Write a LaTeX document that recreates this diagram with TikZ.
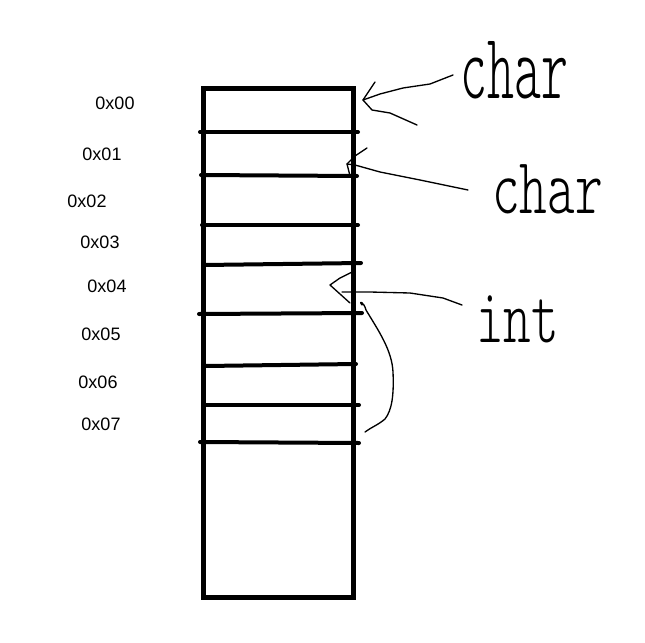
\documentclass[tikz,border=0pt]{standalone}
\usepackage{fontspec}
\setmainfont{Liberation Sans}
\begin{document}
\begin{tikzpicture}[x=0.75pt,y=-0.75pt,
  addr/.style={font=\fontsize{13.5}{15}\selectfont, inner sep=0pt},
  hand/.style={inner sep=0pt, anchor=base west},
  divider/.style={line width=3pt, line cap=round},
  pen/.style={line width=1pt, line cap=round, line join=round}]
\useasboundingbox[fill=white] (0,0) rectangle (645,642);
% memory column
\node[draw, line width=3.75pt, minimum width=112.5pt, minimum height=381.75pt, inner sep=0pt] (mem) at (278,342.5) {};
\draw[divider] (200,132) -- (358,132);
\draw[divider] (201,175) -- (357,176);
\draw[divider] (202,225) -- (358,225);
\draw[divider] (204,265) -- (361,263);
\draw[divider] (199,314) -- (362,313);
\draw[divider] (205,366) -- (356,364);
\draw[divider] (205,405) -- (359,405);
\draw[divider] (200,442) -- (359,443);
% addresses
\node[addr] (a0) at (115,103) {0x00};
\node[addr] (a1) at (102,154) {0x01};
\node[addr] (a2) at (87,201) {0x02};
\node[addr] (a3) at (100,242) {0x03};
\node[addr] (a4) at (107,286) {0x04};
\node[addr] (a5) at (101,334) {0x05};
\node[addr] (a6) at (98,382) {0x06};
\node[addr] (a7) at (101,424) {0x07};
% handwritten labels
\node[hand, font=\ttfamily\fontseries{l}\fontsize{70}{70}\selectfont, xscale=0.55] (c1) at (460,98) {char};
\node[hand, font=\ttfamily\fontseries{l}\fontsize{60}{60}\selectfont, xscale=0.66] (c2) at (492,213) {char};
\node[hand, font=\ttfamily\fontseries{l}\fontsize{58}{58}\selectfont, xscale=0.68] (c3) at (476,342) {int};
% arrow tips
\coordinate (tip1) at (363,100);
\coordinate (tip2) at (347,164);
\coordinate (tip3) at (330,285);
% arrow 1
\draw[pen] (453,75) -- (430,84) -- (403,88) -- (380,94) -- (tip1);
\draw[pen] (375,82) -- (tip1) -- (372,110) -- (390,113) -- (417,125);
% arrow 2
\draw[pen] (468,190) -- (420,180) -- (380,172) -- (355,165) -- (tip2);
\draw[pen] (367,148) -- (355,156) -- (tip2) -- (350,176);
% arrow 3
\draw[pen] (462,305) -- (443,298) -- (410,293) -- (370,292) -- (342,292);
\draw[pen] (352,272) -- (340,278) -- (tip3) -- (350,303);
% brace-like curve
\draw[pen] (362,305) .. controls (358,300) and (364,302) .. (366,310)
  .. controls (378,330) and (392,350) .. (393,372)
  .. controls (394,395) and (392,410) .. (385,419)
  .. controls (378,425) and (370,428) .. (365,432);
\end{tikzpicture}
\end{document}
